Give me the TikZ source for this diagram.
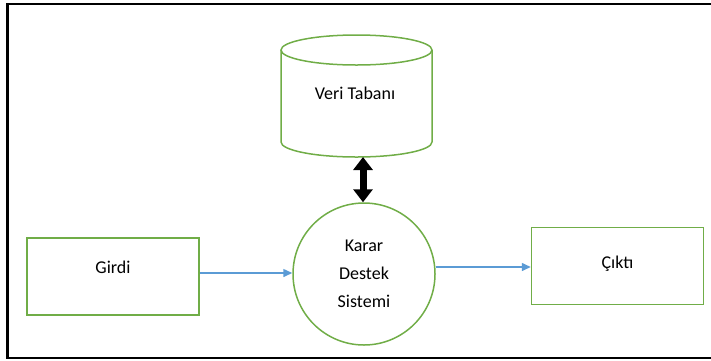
\documentclass[tikz,border=0pt]{standalone}
\usepackage{fontspec}
\setmainfont{Carlito}
\usetikzlibrary{arrows.meta}

\definecolor{boxgreen}{RGB}{112,173,71}
\definecolor{flowblue}{RGB}{91,155,213}

\tikzset{
  outline/.style={draw=boxgreen, line width=1.5pt},
  box/.style={outline, rectangle, minimum width=172pt, minimum height=77pt, inner sep=0pt},
  flow/.style={draw=flowblue, line width=1.5pt, -{Triangle[width=8pt,length=9pt]}},
}

\begin{document}
\begin{tikzpicture}[x=1pt, y=-1pt, font=\fontsize{18}{28}\selectfont]
    % Page area and the outer frame (open on the right)
    \useasboundingbox (0,0) rectangle (711,360);
    \clip (0,0) rectangle (711,360);
    \draw[line width=2.5pt] (7.5,4) rectangle (730,358);

    % Database cylinder on top
    \draw[outline] (356.5,50) ellipse[x radius=75.5, y radius=15];
    \draw[outline] (281,50) -- (281,142) arc[start angle=180, end angle=0, x radius=75.5, y radius=15] -- (432,50);
    \node (db) at (355,93) {Veri Taban\i};
    \coordinate (dbbottom) at (363,157);

    % Decision support system in the middle
    \node[circle, outline, minimum size=142pt, inner sep=0pt, align=center] (dss) at (364,274) {Karar\\Destek\\Sistemi};

    % Input and output boxes
    \node[box, text height=13pt, text depth=19pt] (in) at (113,276.5) {Girdi};
    \node[box, text height=13pt, text depth=8pt] (out) at (617.5,266) {Çıktı};

    % Data flow
    \draw[line width=7pt, {Triangle[width=19pt,length=13pt]}-{Triangle[width=19pt,length=13pt]}] (dbbottom) -- (dbbottom |- dss.north);
    \draw[flow] (in.east |- 0,273) -- (dss.west |- 0,273);
    \draw[flow] (dss.east |- 0,267) -- (out.west |- 0,267);
\end{tikzpicture}
\end{document}
